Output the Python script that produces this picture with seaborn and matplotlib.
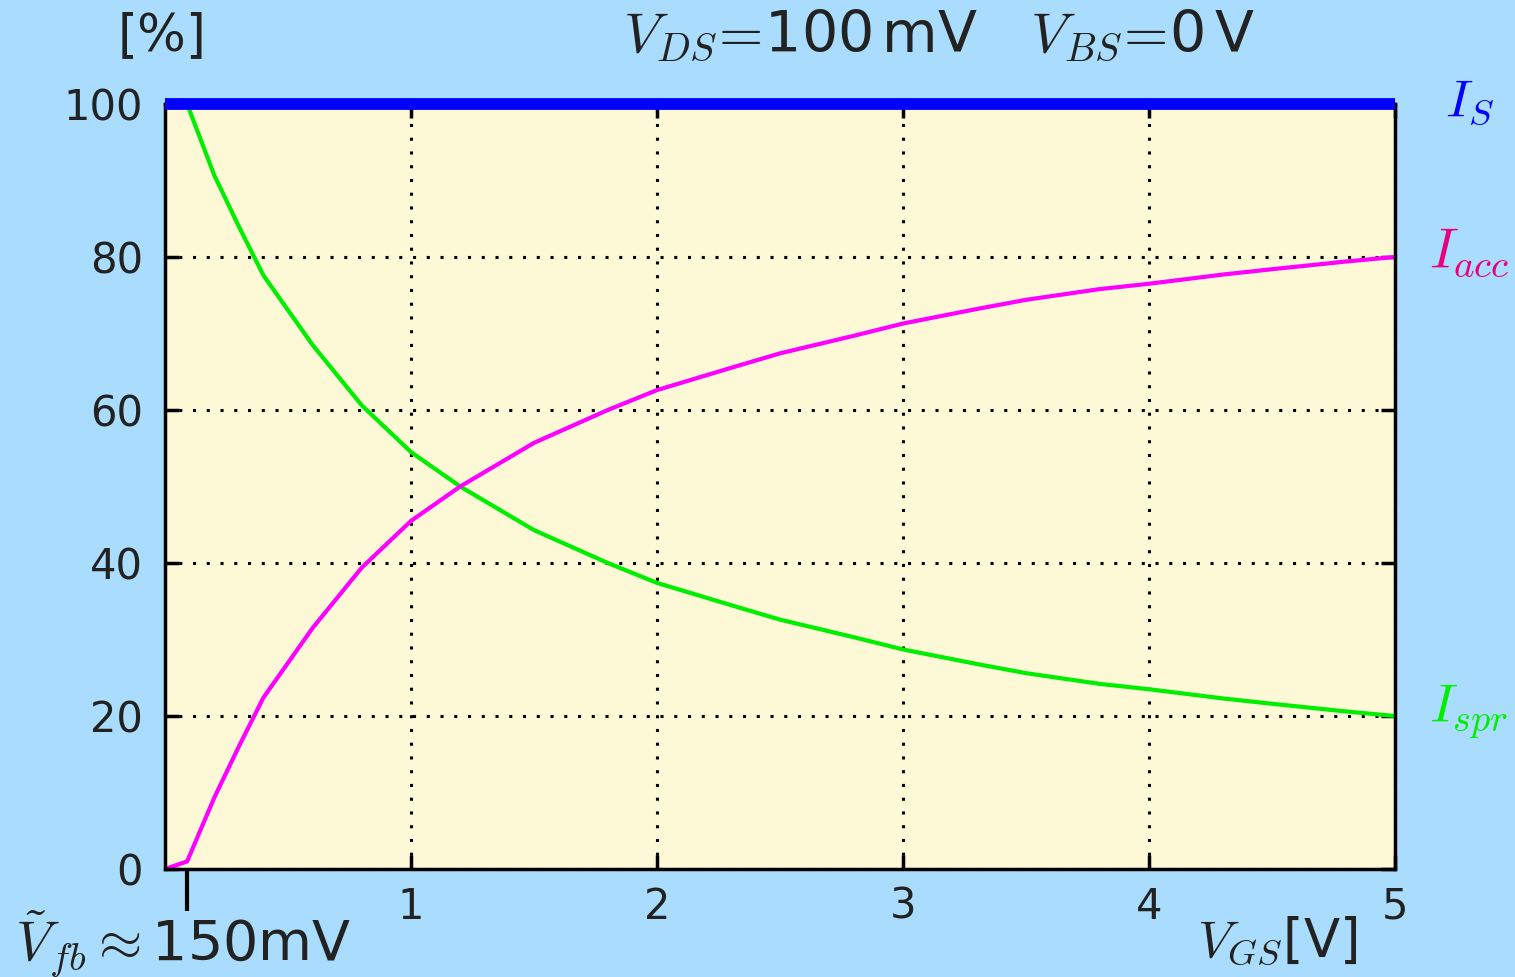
import seaborn as sns
import matplotlib.pyplot as plt

# gate voltage [V] and current shares [%]
vgs = [0.0, 0.09, 0.2, 0.3, 0.4, 0.6, 0.8, 1.0, 1.2, 1.5, 1.8, 2.0, 2.3, 2.5,
       2.8, 3.0, 3.3, 3.5, 3.8, 4.0, 4.3, 4.5, 4.8, 5.0]
i_spr = [100, 100, 90.7, 84.0, 77.6, 68.5, 60.6, 54.5, 50.0, 44.3, 40.0, 37.4,
         34.5, 32.6, 30.3, 28.7, 26.8, 25.6, 24.2, 23.5, 22.3, 21.6, 20.6, 20.0]
i_acc = [0, 1.0, 9.3, 16.0, 22.4, 31.5, 39.4, 45.5, 50.0, 55.7, 60.0, 62.6,
         65.5, 67.4, 69.7, 71.3, 73.2, 74.4, 75.8, 76.5, 77.7, 78.4, 79.4, 80.0]
i_s = [100, 100]
i_s_x = [0, 5]
vfb = 0.09

xticks = [1, 2, 3, 4, 5]
yticks = [0, 20, 40, 60, 80, 100]

sns.set_theme(style='ticks')
plt.rcParams['font.family'] = ['DejaVu Sans']
plt.rcParams['mathtext.fontset'] = 'cm'

bg = '#aaddfd'
fig = plt.figure(figsize=(15.15, 9.77), dpi=100, facecolor=bg)
ax = fig.add_axes([0.1089, 0.1105, 0.8119, 0.7831])
ax.set_facecolor('#fdf8d5')

sns.lineplot(x=vgs, y=i_spr, color='#00ee00', linewidth=3, ax=ax)
sns.lineplot(x=vgs, y=i_acc, color='#ff00ff', linewidth=3, ax=ax)
sns.lineplot(x=i_s_x, y=i_s, color='#0000ff', linewidth=8.5, ax=ax,
             clip_on=False, zorder=5, solid_capstyle='butt')

ax.set_xlim(0, 5)
ax.set_ylim(0, 100)
ax.set_xticks(xticks)
ax.set_yticks(yticks)
ax.set_xticks([vfb], minor=True)
ax.set_xticklabels([str(t) for t in xticks])
ax.set_xlabel('')
ax.set_ylabel('')

# gnuplot-like dotted grid with inward ticks on all sides
ax.grid(True, which='major', color='black', linestyle=(0, (1, 3.5)), linewidth=2.2)
ax.tick_params(which='major', direction='in', length=10, width=2.5,
               top=True, right=True, labelsize=30, colors='black',
               labelcolor='#222222', pad=16)
ax.tick_params(axis='x', which='major', pad=12)
ax.tick_params(axis='x', which='minor', direction='out', length=30, width=3,
               top=False, bottom=True, color='black')

for side in ['left', 'right', 'bottom', 'top']:
    ax.spines[side].set_color('black')
    ax.spines[side].set_linewidth(2.5)

fig.text(0.107, 0.963, '[%]', fontsize=37, color='#222222', ha='center', va='center')
fig.text(0.411, 0.963, r'$V_{DS}\!=\!$100$\,$mV   $V_{BS}\!=\!$0$\,$V',
         fontsize=41, color='#222222', ha='left', va='center')
fig.text(0.01, 0.035, r'$\tilde{V}_{fb}\approx$150mV', fontsize=40,
         color='#222222', ha='left', va='center')
fig.text(0.79, 0.037, r'$V_{GS}$[V]', fontsize=38, color='#222222',
         ha='left', va='center')

fig.text(0.954, 0.897, r'$I_S$', fontsize=38, color='#0000ff', ha='left', va='center')
fig.text(0.943, 0.742, r'$I_{acc}$', fontsize=40, color='#e6007e', ha='left', va='center')
fig.text(0.943, 0.272, r'$I_{spr}$', fontsize=39, color='#00ee00', ha='left', va='center')

fig.savefig('out.png', dpi=100, facecolor=bg)
